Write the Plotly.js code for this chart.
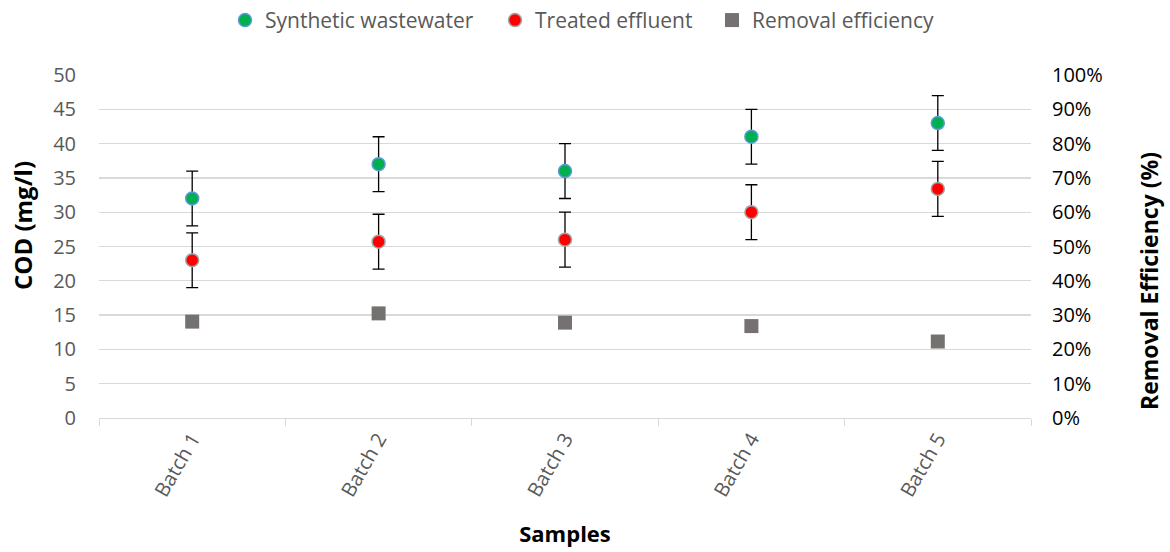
<!DOCTYPE html>
<html>
<head>
<meta charset="utf-8">
<script src="https://cdn.plot.ly/plotly-3.0.1.min.js"></script>
<style>html,body{margin:0;padding:0;background:#fff;}#chart{width:1170px;height:552px;}</style>
</head>
<body>
<div id="chart"></div>
<script>
// COD measurements per batch (mg/l) with standard deviation
const batches = ["Batch 1", "Batch 2", "Batch 3", "Batch 4", "Batch 5"];
const synthetic = [32, 37, 36, 41, 43];
const syntheticErr = [4, 4, 4, 4, 4];
const treated = [23, 25.7, 26, 30, 33.4];
const treatedErr = [4, 4, 4, 4, 4];
// Removal efficiency (fraction), plotted on the right axis
const removal = [0.281, 0.305, 0.278, 0.268, 0.223];

const font = "'Open Sans', sans-serif";
const fs = 20;

const traces = [
  {
    x: batches, y: synthetic, name: "Synthetic wastewater", type: "scatter", mode: "markers",
    legend: "legend",
    marker: {color: "#00B050", size: 13, line: {color: "#5B9BD5", width: 1.5}},
    error_y: {type: "data", array: syntheticErr, visible: true, color: "#000000", thickness: 1.3, width: 6}
  },
  {
    x: batches, y: treated, name: "Treated effluent", type: "scatter", mode: "markers",
    legend: "legend2",
    marker: {color: "#FF0000", size: 13, line: {color: "#A5A5A5", width: 1.5}},
    error_y: {type: "data", array: treatedErr, visible: true, color: "#000000", thickness: 1.3, width: 6}
  },
  {
    x: batches, y: removal, name: "Removal efficiency", type: "scatter", mode: "markers",
    yaxis: "y2", legend: "legend3",
    marker: {color: "#767171", size: 14, symbol: "square"}
  }
];

// one legend box per series so each entry can sit at its own spot along the top
function legendAt(xFrac) {
  return {orientation: "h", x: xFrac, xref: "container", xanchor: "left",
          y: 0.963, yref: "container", yanchor: "middle",
          font: {size: 21, color: "#595959"}, itemwidth: 30, borderwidth: 0};
}

const layout = {
  width: 1170, height: 552,
  margin: {l: 99, r: 139, t: 75, b: 134},
  paper_bgcolor: "#ffffff", plot_bgcolor: "#ffffff",
  font: {family: font, size: fs, color: "#595959"},
  showlegend: true,
  legend: legendAt(225 / 1170),
  legend2: legendAt(495 / 1170),
  legend3: legendAt(712 / 1170),
  xaxis: {
    type: "category", range: [-0.5, 4.5], automargin: false, showgrid: false, showline: true,
    linecolor: "#D9D9D9", linewidth: 1.3,
    ticks: "outside", tickson: "boundaries", ticklen: 7, tickcolor: "#D9D9D9",
    tickangle: -60, tickfont: {size: fs, color: "#595959"},
    title: {text: "<b>Samples</b>", font: {size: 22, color: "#000000"}, standoff: 26},
    zeroline: false
  },
  yaxis: {
    range: [0, 50], dtick: 5, automargin: false, showgrid: true, gridcolor: "#D9D9D9", gridwidth: 1.3,
    zeroline: false, showline: false, ticks: "", ticklabelstandoff: 22,
    tickfont: {size: fs, color: "#595959"}
  },
  yaxis2: {
    range: [0, 1], dtick: 0.1, tickformat: ".0%", overlaying: "y", side: "right", automargin: false,
    showgrid: false, zeroline: false, showline: false, ticks: "", ticklabelstandoff: 20,
    tickfont: {size: fs, color: "#000000"}
  },
  annotations: [
    {text: "<b>COD (mg/l)</b>", textangle: -90, showarrow: false,
     xref: "paper", yref: "paper", x: (22 - 99) / 932, y: (418 - 226) / 343,
     xanchor: "center", yanchor: "middle", font: {size: 24, color: "#000000"}},
    {text: "<b>Removal Efficiency (%)</b>", textangle: -90, showarrow: false,
     xref: "paper", yref: "paper", x: (1149 - 99) / 932, y: (418 - 281) / 343,
     xanchor: "center", yanchor: "middle", font: {size: 23, color: "#000000"}}
  ]
};

Plotly.newPlot("chart", traces, layout, {displayModeBar: false, staticPlot: true});
</script>
</body>
</html>
